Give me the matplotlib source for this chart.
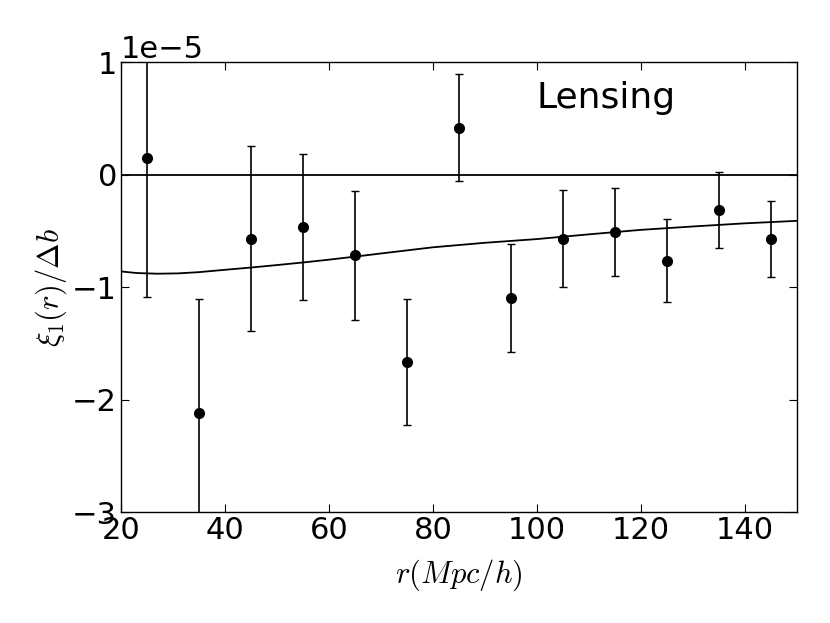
import numpy as np
import matplotlib
matplotlib.use('Agg')
import matplotlib.pyplot as plt

plt.rcParams['mathtext.fontset'] = 'cm'
plt.rcParams['font.family'] = 'DejaVu Sans'

# measured points (units of 1e-5)
r = [25, 35, 45, 55, 65, 75, 85, 95, 105, 115, 125, 135, 145]
xi = [0.15, -2.115, -0.567, -0.466, -0.718, -1.662, 0.418, -1.098, -0.567, -0.51, -0.763, -0.315, -0.567]
err = [1.24, 1.01, 0.82, 0.65, 0.57, 0.56, 0.476, 0.478, 0.43, 0.39, 0.37, 0.336, 0.338]

# model curve (units of 1e-5)
r_model = [20, 23, 27, 31, 35, 40, 45, 50, 55, 60, 65, 70, 80, 90, 100, 110, 120, 130, 140, 150]
xi_model = [-0.86, -0.874, -0.88, -0.877, -0.866, -0.845, -0.825, -0.803, -0.78, -0.755, -0.728,
            -0.70, -0.645, -0.605, -0.572, -0.53, -0.49, -0.46, -0.432, -0.41]

scale = 1e-5

fig = plt.figure(figsize=(8.3, 6.23), dpi=100)
ax = fig.add_axes([0.146, 0.178, 0.814, 0.722])

ax.plot(r_model, np.array(xi_model) * scale, color='black', lw=1.3)
ax.axhline(0, color='black', lw=1.3)
ax.errorbar(r, np.array(xi) * scale, yerr=np.array(err) * scale, fmt='o', color='black',
            ms=7, elinewidth=1.2, capsize=3, capthick=1.0)

ax.set_xlim(20, 150)
ax.set_ylim(-3e-5, 1e-5)
ax.set_xticks([20, 40, 60, 80, 100, 120, 140])
ax.set_yticks([-3e-5, -2e-5, -1e-5, 0, 1e-5])

ax.tick_params(direction='in', top=True, right=True, length=6, width=0.8, labelsize=22, pad=3)
ax.yaxis.get_offset_text().set_fontsize(22)
for s in ax.spines.values():
    s.set_linewidth(1.0)

ax.text(0.717, 0.898, 'Lensing', transform=ax.transAxes, fontsize=26, ha='center', va='baseline')
ax.set_xlabel(r'$r(Mpc/h)$', fontsize=22, labelpad=9)
ax.set_ylabel(r'$\xi_1(r)/\Delta b$', fontsize=22, labelpad=2)

plt.savefig('out.png', dpi=100)
